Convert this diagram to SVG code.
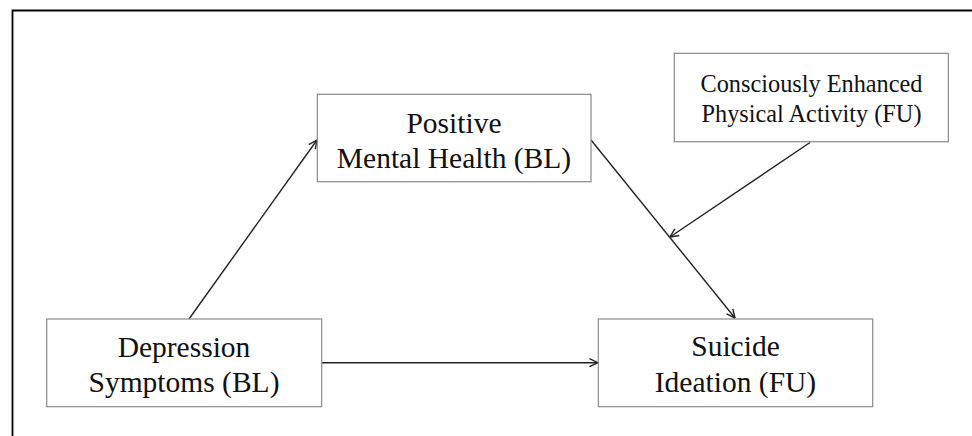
<svg xmlns="http://www.w3.org/2000/svg" width="972" height="436" viewBox="0 0 972 436">
  <style>
    .box { fill: #ffffff; stroke: #8a8a8a; stroke-width: 1.2; }
    text { font-family: 'Liberation Serif', 'DejaVu Serif', serif; fill: #111; text-anchor: middle; }
    .big { font-size: 29.5px; }
    .small { font-size: 24.3px; }
    .edge { stroke: #222; stroke-width: 1.4; fill: none; marker-end: url(#arr); }
  </style>
  <defs>
    <marker id="arr" viewBox="0 0 10 10" refX="9.5" refY="5" markerWidth="10" markerHeight="10" markerUnits="userSpaceOnUse" orient="auto">
      <path d="M1,1 L9.5,5 L1,9" fill="none" stroke="#222" stroke-width="1.4"/>
    </marker>
  </defs>
  <rect x="0" y="0" width="972" height="436" fill="#ffffff"/>
  <g id="frame">
    <path d="M12.5,436 L12.5,10.5 L972,10.5" fill="none" stroke="#000" stroke-width="1.8"/>
  </g>
  <g id="connectors">
    <line class="edge" x1="189" y1="319" x2="317" y2="140"/>
    <line class="edge" x1="591" y1="140" x2="735" y2="318"/>
    <line class="edge" x1="810" y1="142.5" x2="670" y2="237"/>
    <line class="edge" x1="322" y1="362.7" x2="598" y2="362.7"/>
  </g>
  <g id="node-pmh" font-family="Liberation Serif, serif">
    <rect class="box" x="317.3" y="94.3" width="273.7" height="87.4"/>
    <text class="big" x="454" y="132.5">Positive</text>
    <text class="big" x="454" y="167.5">Mental Health (BL)</text>
  </g>
  <g id="node-cepa">
    <rect class="box" x="674.3" y="53.3" width="274" height="88.4"/>
    <text class="small" x="811.5" y="91.5">Consciously Enhanced</text>
    <text class="small" x="811.5" y="121.5">Physical Activity (FU)</text>
  </g>
  <g id="node-dep">
    <rect class="box" x="46.7" y="319" width="275" height="87.7"/>
    <text class="big" x="184" y="356.5">Depression</text>
    <text class="big" x="184" y="391.5">Symptoms (BL)</text>
  </g>
  <g id="node-si">
    <rect class="box" x="598.3" y="319" width="274.4" height="87.7"/>
    <text class="big" x="735.5" y="355.5">Suicide</text>
    <text class="big" x="735.5" y="391.5">Ideation (FU)</text>
  </g>
</svg>
